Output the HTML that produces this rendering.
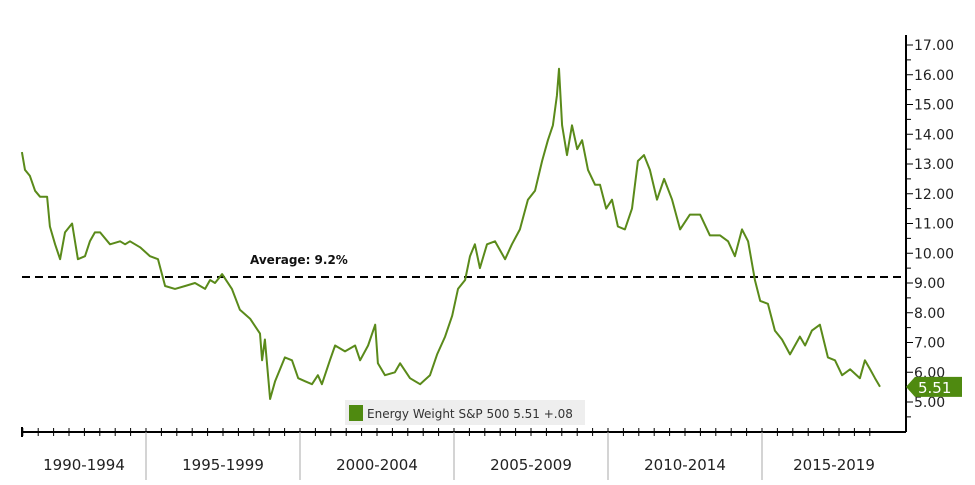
<!DOCTYPE html>
<html><head><meta charset="utf-8"><style>
body{margin:0;background:#fff;}
svg{display:block;font-family:"DejaVu Sans","Liberation Sans",sans-serif;}
</style></head><body>
<svg id="chart" width="975" height="485" viewBox="0 0 975 485"></svg>
<script>
const years=[1990.97,1991.07,1991.23,1991.40,1991.56,1991.79,1991.88,1992.05,1992.21,1992.37,1992.60,1992.79,1993.02,1993.18,1993.34,1993.51,1993.83,1994.16,1994.32,1994.48,1994.81,1995.13,1995.39,1995.62,1995.94,1996.27,1996.59,1996.92,1997.08,1997.24,1997.47,1997.79,1998.05,1998.38,1998.70,1998.77,1998.86,1999.03,1999.19,1999.51,1999.74,1999.94,2000.16,2000.39,2000.58,2000.71,2000.97,2001.14,2001.46,2001.79,2001.95,2002.21,2002.44,2002.53,2002.76,2003.08,2003.25,2003.57,2003.90,2004.22,2004.45,2004.71,2004.94,2005.13,2005.36,2005.52,2005.68,2005.84,2006.07,2006.33,2006.66,2006.88,2007.14,2007.40,2007.63,2007.86,2008.05,2008.21,2008.34,2008.41,2008.51,2008.67,2008.83,2009.00,2009.16,2009.35,2009.58,2009.74,2009.94,2010.13,2010.32,2010.55,2010.78,2010.97,2011.17,2011.36,2011.59,2011.82,2012.08,2012.34,2012.66,2012.99,2013.31,2013.64,2013.90,2014.12,2014.35,2014.55,2014.77,2014.94,2015.19,2015.42,2015.65,2015.91,2016.23,2016.40,2016.62,2016.88,2017.14,2017.37,2017.60,2017.86,2018.18,2018.34,2018.51,2018.67,2018.83];
const values=[13.4,12.8,12.6,12.1,11.9,11.9,10.9,10.3,9.8,10.7,11.0,9.8,9.9,10.4,10.7,10.7,10.3,10.4,10.3,10.4,10.2,9.9,9.8,8.9,8.8,8.9,9.0,8.8,9.1,9.0,9.3,8.8,8.1,7.8,7.3,6.4,7.1,5.1,5.7,6.5,6.4,5.8,5.7,5.6,5.9,5.6,6.4,6.9,6.7,6.9,6.4,6.9,7.6,6.3,5.9,6.0,6.3,5.8,5.6,5.9,6.6,7.2,7.9,8.8,9.1,9.9,10.3,9.5,10.3,10.4,9.8,10.3,10.8,11.8,12.1,13.1,13.8,14.3,15.3,16.2,14.3,13.3,14.3,13.5,13.8,12.8,12.3,12.3,11.5,11.8,10.9,10.8,11.5,13.1,13.3,12.8,11.8,12.5,11.8,10.8,11.3,11.3,10.6,10.6,10.4,9.9,10.8,10.4,9.1,8.4,8.3,7.4,7.1,6.6,7.2,6.9,7.4,7.6,6.5,6.4,5.9,6.1,5.8,6.4,6.1,5.8,5.51];
const yTicks=[5,6,7,8,9,10,11,12,13,14,15,16,17];
const periods=["1990-1994","1995-1999","2000-2004","2005-2009","2010-2014","2015-2019"];
const average=9.2;
const lastValue="5.51";
const NS="http://www.w3.org/2000/svg";
const svg=document.getElementById('chart');
const X=y=>-8+(y-1990)*30.8;
const Y=v=>45+(17-v)*29.75;
function mk(t,a,p){const e=document.createElementNS(NS,t);for(const k in a)e.setAttribute(k,a[k]);(p||svg).appendChild(e);return e;}
// axes
let e=mk('line',{x1:22,y1:432,x2:906,y2:432,stroke:'#000','stroke-width':2});

e=mk('line',{x1:906,y1:35,x2:906,y2:432,stroke:'#000','stroke-width':2});

for(let y=1990.5;y<2019;y+=0.5){const x=X(y);if(x<22)continue;mk('line',{x1:x,y1:428,x2:x,y2:436,stroke:'#000','stroke-width':1});}
mk('line',{x1:22,y1:427,x2:22,y2:437,stroke:'#000','stroke-width':2});
periods.forEach((p,i)=>{
  const s=1990+5*i;
  if(i>0){e=mk('line',{x1:X(s),y1:432,x2:X(s),y2:480,stroke:'#aaa','stroke-width':1});}
  const a=Math.max(X(s),22),b=Math.min(X(s+5),906);
  const t=mk('text',{x:(a+b)/2,y:470,'text-anchor':'middle','font-size':15,fill:'#222'});t.textContent=p;
  
});
yTicks.forEach(v=>{
  mk('line',{x1:906,y1:Y(v),x2:913,y2:Y(v),stroke:'#000','stroke-width':1});
  mk('line',{x1:906,y1:Y(v-0.5),x2:911,y2:Y(v-0.5),stroke:'#000','stroke-width':1});
  const t=mk('text',{x:914,y:Y(v)+5,'font-size':14,fill:'#222'});t.textContent=v.toFixed(2);
  
});
// average
e=mk('line',{x1:22,y1:Y(average),x2:906,y2:Y(average),stroke:'#000','stroke-width':2,'stroke-dasharray':'8,5'});

e=mk('text',{x:250,y:Y(average)-13,'font-size':12,'font-weight':'bold',fill:'#111'});e.textContent='Average: '+average+'%';

// series
const d=years.map((y,i)=>(i?'L':'M')+X(y).toFixed(1)+','+Y(values[i]).toFixed(1)).join('');
e=mk('path',{d:d,fill:'none',stroke:'#5a8a1a','stroke-width':2,'stroke-linejoin':'round'});

// last value tag
const ly=Y(values[values.length-1]);
e=mk('path',{d:`M906,${ly} L915,${ly-10} L962,${ly-10} L962,${ly+10} L915,${ly+10}Z`,fill:'#4f8a10'});

e=mk('text',{x:918,y:ly+6,'font-size':15,fill:'#fff'});e.textContent=lastValue;

// legend
const g=mk('g',{});
mk('rect',{x:345,y:400,width:240,height:25,fill:'#eeeeee'},g);
mk('rect',{x:349,y:405,width:14,height:16,fill:'#4f8a10'},g);
e=mk('text',{x:367,y:418,'font-size':12,fill:'#333'},g);e.textContent='Energy Weight S&P 500  5.51   +.08';

</script>
</body></html>
